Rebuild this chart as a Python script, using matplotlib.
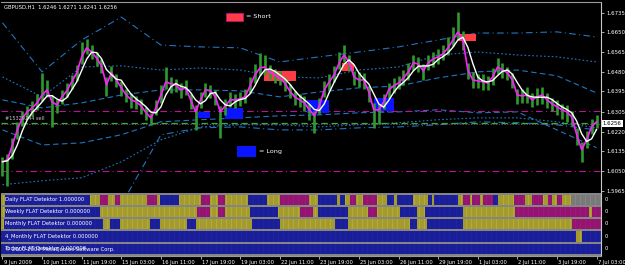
import numpy as np
import pandas as pd
import matplotlib
matplotlib.use("Agg")
import matplotlib.pyplot as plt
from matplotlib.patches import Rectangle
from matplotlib.transforms import ScaledTranslation

plt.rcParams["font.family"] = "DejaVu Sans"

W, H = 625, 265

# ── Price data: GBPUSD H1, one sample every 4 bars ───────────────────────────
close = [
    1.6090, 1.6099, 1.6163, 1.6228, 1.6280, 1.6306, 1.6323, 1.6345, 1.6379, 1.6401,
    1.6349, 1.6336, 1.6371, 1.6397, 1.6436, 1.6475, 1.6544, 1.6583, 1.6565, 1.6539,
    1.6505, 1.6423, 1.6475, 1.6444, 1.6410, 1.6379, 1.6358, 1.6349, 1.6332, 1.6302,
    1.6280, 1.6323, 1.6379, 1.6436, 1.6427, 1.6423, 1.6401, 1.6410, 1.6358, 1.6306,
    1.6358, 1.6401, 1.6397, 1.6371, 1.6306, 1.6332, 1.6358, 1.6358, 1.6362, 1.6371,
    1.6418, 1.6466, 1.6496, 1.6500, 1.6479, 1.6466, 1.6453, 1.6431, 1.6397, 1.6371,
    1.6358, 1.6345, 1.6315, 1.6289, 1.6332, 1.6401, 1.6436, 1.6466, 1.6518, 1.6552,
    1.6522, 1.6457, 1.6444, 1.6444, 1.6392, 1.6315, 1.6315, 1.6349, 1.6401, 1.6418,
    1.6431, 1.6453, 1.6479, 1.6518, 1.6513, 1.6483, 1.6518, 1.6535, 1.6544, 1.6557,
    1.6583, 1.6617, 1.6652, 1.6617, 1.6487, 1.6444, 1.6440, 1.6436, 1.6431, 1.6457,
    1.6500, 1.6487, 1.6475, 1.6444, 1.6379, 1.6375, 1.6379, 1.6358, 1.6371, 1.6379,
    1.6358, 1.6341, 1.6328, 1.6315, 1.6306, 1.6284, 1.6207, 1.6142, 1.6185, 1.6241,
    1.6263,
]
# bar extent above / below the close, in pips
up_pips = [
    20, 25, 30, 35, 30, 25, 30, 40, 95, 45,
    30, 25, 30, 35, 30, 35, 65, 40, 30, 25,
    30, 35, 30, 25, 30, 25, 30, 25, 30, 25,
    20, 35, 45, 65, 30, 25, 30, 35, 25, 30,
    35, 30, 25, 30, 25, 30, 35, 25, 30, 35,
    40, 45, 65, 50, 30, 25, 30, 25, 30, 25,
    25, 30, 25, 20, 35, 40, 35, 40, 45, 45,
    30, 25, 35, 30, 25, 30, 25, 35, 30, 35,
    30, 35, 40, 35, 30, 30, 35, 30, 35, 40,
    45, 55, 86, 40, 30, 35, 30, 35, 30, 40,
    40, 30, 25, 30, 25, 30, 35, 30, 40, 35,
    30, 25, 30, 25, 30, 25, 30, 35, 40, 35,
    30,
]
dn_pips = [
    60, 115, 60, 40, 35, 30, 35, 30, 25, 30,
    108, 35, 30, 25, 30, 35, 30, 25, 30, 35,
    30, 50, 35, 30, 35, 30, 35, 30, 35, 30,
    30, 30, 35, 30, 40, 30, 35, 30, 40, 78,
    35, 30, 30, 35, 112, 40, 30, 35, 30, 25,
    30, 35, 30, 35, 30, 35, 30, 35, 30, 35,
    30, 35, 45, 73, 35, 30, 35, 30, 25, 30,
    40, 35, 30, 40, 45, 78, 60, 30, 35, 30,
    25, 30, 35, 30, 35, 40, 30, 35, 30, 25,
    30, 25, 30, 45, 40, 35, 30, 35, 30, 35,
    30, 35, 30, 35, 40, 30, 35, 30, 35, 40,
    35, 30, 35, 40, 45, 40, 45, 52, 35, 30,
    25,
]

# ── Envelope bands (read every 32 bars) ──────────────────────────────────────
band_hours = [0, 32, 64, 96, 128, 160, 192, 224, 256, 288, 320, 352, 384, 416, 448, 480]
band_up3 = [1.6691, 1.6479, 1.6617, 1.6716, 1.6595, 1.6587, 1.6583, 1.6522,
            1.6544, 1.6565, 1.6587, 1.6617, 1.6647, 1.6647, 1.6652, 1.6630]
band_up2 = [1.6457, 1.6371, 1.6500, 1.6505, 1.6487, 1.6496, 1.6487, 1.6457,
            1.6453, 1.6487, 1.6500, 1.6552, 1.6565, 1.6552, 1.6544, 1.6522]
band_up1 = [1.6358, 1.6323, 1.6345, 1.6379, 1.6401, 1.6401, 1.6397, 1.6371,
            1.6392, 1.6410, 1.6418, 1.6453, 1.6479, 1.6487, 1.6462, 1.6388]
band_lo1 = [1.6228, 1.6163, 1.6172, 1.6207, 1.6263, 1.6272, 1.6280, 1.6289,
            1.6293, 1.6302, 1.6306, 1.6315, 1.6302, 1.6306, 1.6228, 1.6151]
band_lo2 = [1.5991, 1.6008, 1.6021, 1.6090, 1.6185, 1.6241, 1.6250, 1.6250,
            1.6241, 1.6250, 1.6259, 1.6272, 1.6280, 1.6280, 1.6263, 1.6237]
band_lo3 = [np.nan, np.nan, np.nan, 1.5904, 1.6207, 1.6237, 1.6241, 1.6228,
            1.6228, 1.6237, 1.6241, 1.6250, 1.6263, 1.6259, 1.6250, 1.6228]

level_lines = [1.6310, 1.6051]
order_price = 1.6256
last_price = 1.6256

# signal boxes: (hour start, hour end, price low, price high)
long_boxes = [(158, 168, 1.6280, 1.6306), (180, 194, 1.6276, 1.6323),
              (246, 264, 1.6302, 1.6358), (300, 316, 1.6310, 1.6366)]
short_boxes = [(211, 237, 1.6440, 1.6483), (274, 284, 1.6483, 1.6518),
               (368, 383, 1.6613, 1.6643)]

price_ticks = [1.6735, 1.6650, 1.6565, 1.6480, 1.6395, 1.6305, 1.6220, 1.6135, 1.6050, 1.5965]
time_labels = ["9 Jun 2009", "10 Jun 11:00", "11 Jun 19:00", "15 Jun 03:00",
               "16 Jun 11:00", "17 Jun 19:00", "19 Jun 03:00", "22 Jun 11:00",
               "23 Jun 19:00", "25 Jun 03:00", "26 Jun 11:00", "29 Jun 19:00",
               "1 Jul 03:00", "2 Jul 11:00", "3 Jul 19:00", "7 Jul 03:00"]

# ── FLAT Detektor strips: state changes (hour, state) ────────────────────────
strip_names = ["Daily FLAT Detektor 1.000000", "Weekly FLAT Detektor 0.000000",
               "Monthly FLAT Detektor 0.000000", "4_Monthly FLAT Detektor 0.000000",
               "Today FLAT Detektor 0.000000"]
strip_starts = [
    [-2, 2, 71, 79, 85, 91, 95, 117, 125, 127, 143, 160, 168, 174, 180, 198, 214, 224,
     248, 255, 270, 273, 277, 281, 286, 291, 303, 311, 316, 319, 332, 344, 347, 349,
     368, 372, 378, 379, 386, 388, 396, 400, 413, 422, 428, 437, 441, 444, 448, 452,
     459, 468],
    [-2, 2, 79, 157, 168, 174, 180, 200, 223, 240, 251, 255, 279, 295, 303, 321, 335,
     341, 372, 414, 474, 476],
    [-2, 1, 81, 87, 95, 119, 127, 149, 156, 202, 224, 269, 279, 329, 335, 343, 372, 460],
    [-2, 463, 468],
    [-2],
]
strip_states = [
    "YBYMYMYMYBYMYMYBYMYBYBYMYMYBYBYBYBYMYMYMBYMYMYMYMY",
    "YBYMYMYBYMYBYMYBYBYMYM",
    "YBYBYBYBYBYBYBYBYM",
    "BYB",
    "B",
]
state_colors = {"B": "#1E22A6", "Y": "#B4AA34", "M": "#A2167C"}
strip_rows = [(195, 204.5), (206.5, 216.5), (218.8, 229), (231.2, 241.6), (244, 253.5)]

# ── Figure ───────────────────────────────────────────────────────────────────
fig = plt.figure(figsize=(W / 100, H / 100), dpi=100)
fig.patch.set_facecolor("black")


def rect(l, t, r, b):
    return [l / W, 1 - b / H, (r - l) / W, (b - t) / H]


XMIN, XMAX = -1.2, 483.6
hours = np.arange(len(close)) * 4
close_a = np.array(close)
high = close_a + np.array(up_pips) / 10000
low = close_a - np.array(dn_pips) / 10000
fast_ma = close_a
slow_ma = pd.Series(close_a).rolling(3, min_periods=1).mean().values

ax = fig.add_axes(rect(1, 2, 601, 193))
ax.set_facecolor("black")
ax.set_xlim(XMIN, XMAX)
ax.set_ylim(1.59551, 1.67812)

# bands
band_color = "#2274C4"
ax.plot(band_hours, band_up3, color=band_color, lw=0.8, ls=(0, (6, 3, 1, 3)), zorder=1)
ax.plot(band_hours, band_up2, color=band_color, lw=0.8, ls=(0, (1.5, 2)), zorder=1)
ax.plot(band_hours, band_up1, color=band_color, lw=0.8, ls=(0, (5, 3)), zorder=1)
ax.plot(band_hours, band_lo1, color=band_color, lw=0.8, ls=(0, (5, 3)), zorder=1)
ax.plot(band_hours, band_lo2, color=band_color, lw=0.8, ls=(0, (1.5, 2)), zorder=1)
ax.plot(band_hours, band_lo3, color=band_color, lw=0.8, ls=(0, (6, 3, 1, 3)), zorder=1)

# level lines
for lv in level_lines:
    ax.axhline(lv, color="#C0109A", lw=0.8, ls=(0, (6, 3, 1, 3)), zorder=1)
ax.axhline(order_price, color="#3DAA3D", lw=0.9, ls=(0, (5, 3)), zorder=1)
ax.axhline(last_price - 0.0004, color="#707070", lw=0.5, ls=(0, (2, 2)), zorder=1)

# signal boxes
for h0, h1, p0, p1 in long_boxes:
    ax.add_patch(Rectangle((h0, p0), h1 - h0, p1 - p0, fc="#0A14FF", ec="none", zorder=2))
for h0, h1, p0, p1 in short_boxes:
    ax.add_patch(Rectangle((h0, p0), h1 - h0, p1 - p0, fc="#FF3C46", ec="none", zorder=2))

# price bars and moving averages
ax.vlines(hours, low, high, color="#2E9A2E", lw=1.9, zorder=3)
ax.plot(hours, fast_ma, color="#FF1EFF", lw=1.2, zorder=4)
ax.plot(hours, slow_ma, color="white", lw=1.0, zorder=5)

# axes frame and price scale
for s in ["left", "bottom"]:
    ax.spines[s].set_visible(False)
ax.spines["top"].set_color("#9A9A9A")
ax.spines["right"].set_color("#C8C8C8")
ax.spines["top"].set_linewidth(0.8)
ax.spines["right"].set_linewidth(0.8)
ax.set_xticks([])
ax.yaxis.tick_right()
ax.set_yticks(price_ticks)
ax.set_yticklabels([f"{p:.4f}" for p in price_ticks])
ax.tick_params(axis="y", colors="#C8C8C8", labelcolor="white", length=2.5,
               width=0.6, labelsize=3.9, pad=1.2)
ax.text(1.003, last_price, f"{last_price:.4f}", transform=ax.get_yaxis_transform(),
        fontsize=3.9, color="black", va="center", ha="left", clip_on=False,
        bbox=dict(fc="white", ec="none", pad=0.7), zorder=10)

# header and chart labels
fig.text(4 / W, 1 - 7 / H, "GBPUSD,H1  1.6246 1.6271 1.6241 1.6256",
         color="white", fontsize=3.8, va="center", ha="left")
fig.text(5 / W, 1 - 119 / H, "#15329244 sell", color="#C8C8C8", fontsize=3.6,
         va="center", ha="left")
fig.add_artist(Rectangle((226 / W, 1 - 21 / H), 17 / W, 8 / H, transform=fig.transFigure,
                         fc="#FF3C46", ec="#C01080", lw=0.6))
fig.text(246 / W, 1 - 17 / H, "= Short", color="white", fontsize=4.6, va="center")
fig.add_artist(Rectangle((237 / W, 1 - 157 / H), 19 / W, 11 / H, transform=fig.transFigure,
                         fc="#0A14FF", ec="none"))
fig.text(259 / W, 1 - 151.5 / H, "= Long", color="white", fontsize=4.6, va="center")

# ── Indicator strips ─────────────────────────────────────────────────────────
pax = fig.add_axes(rect(1, 193, 601, 255.5))
pax.set_facecolor("#858585")
pax.set_xlim(XMIN, XMAX)
pax.set_ylim(255.5, 193)
tex_x = np.arange(-2, 484, 2)
for (y0, y1), starts, states, name in zip(strip_rows, strip_starts, strip_states, strip_names):
    ends = starts[1:] + [484]
    for s, e, st in zip(starts, ends, states):
        pax.broken_barh([(s, e - s)], (y0, y1 - y0), facecolors=state_colors[st], zorder=1)
    pax.vlines(tex_x, y0, y1, color="black", lw=0.35, alpha=0.35, zorder=2)
    pax.text(3 / 1.2375, (y0 + y1) / 2, name, color="white", fontsize=3.8,
             va="center", ha="left", zorder=3)
    fig.text(605 / W, 1 - (y0 + y1) / 2 / H, "0", color="white", fontsize=3.8, va="center")
# the copyright line sits on top of the last strip label, as in the terminal
pax.text(3 / 1.2375, (strip_rows[4][0] + strip_rows[4][1]) / 2,
         "\u00a9 2000-2009 MetaQuotes Software Corp.", color="white", fontsize=3.8,
         va="center", ha="left", zorder=3)

for s in ["left", "top"]:
    pax.spines[s].set_visible(False)
pax.spines["right"].set_color("#C8C8C8")
pax.spines["bottom"].set_color("#9A9A9A")
pax.spines["right"].set_linewidth(0.8)
pax.set_yticks([])
pax.set_xticks(np.arange(len(time_labels)) * 32)
pax.set_xticklabels(time_labels, ha="left")
pax.tick_params(axis="x", colors="#C8C8C8", labelcolor="white", length=2.5,
                width=0.6, labelsize=3.7, pad=0.8)
off = ScaledTranslation(0.8 / 72, 0, fig.dpi_scale_trans)
for lab in pax.get_xticklabels():
    lab.set_transform(lab.get_transform() + off)

fig.savefig("out.png", dpi=100, facecolor="black")
